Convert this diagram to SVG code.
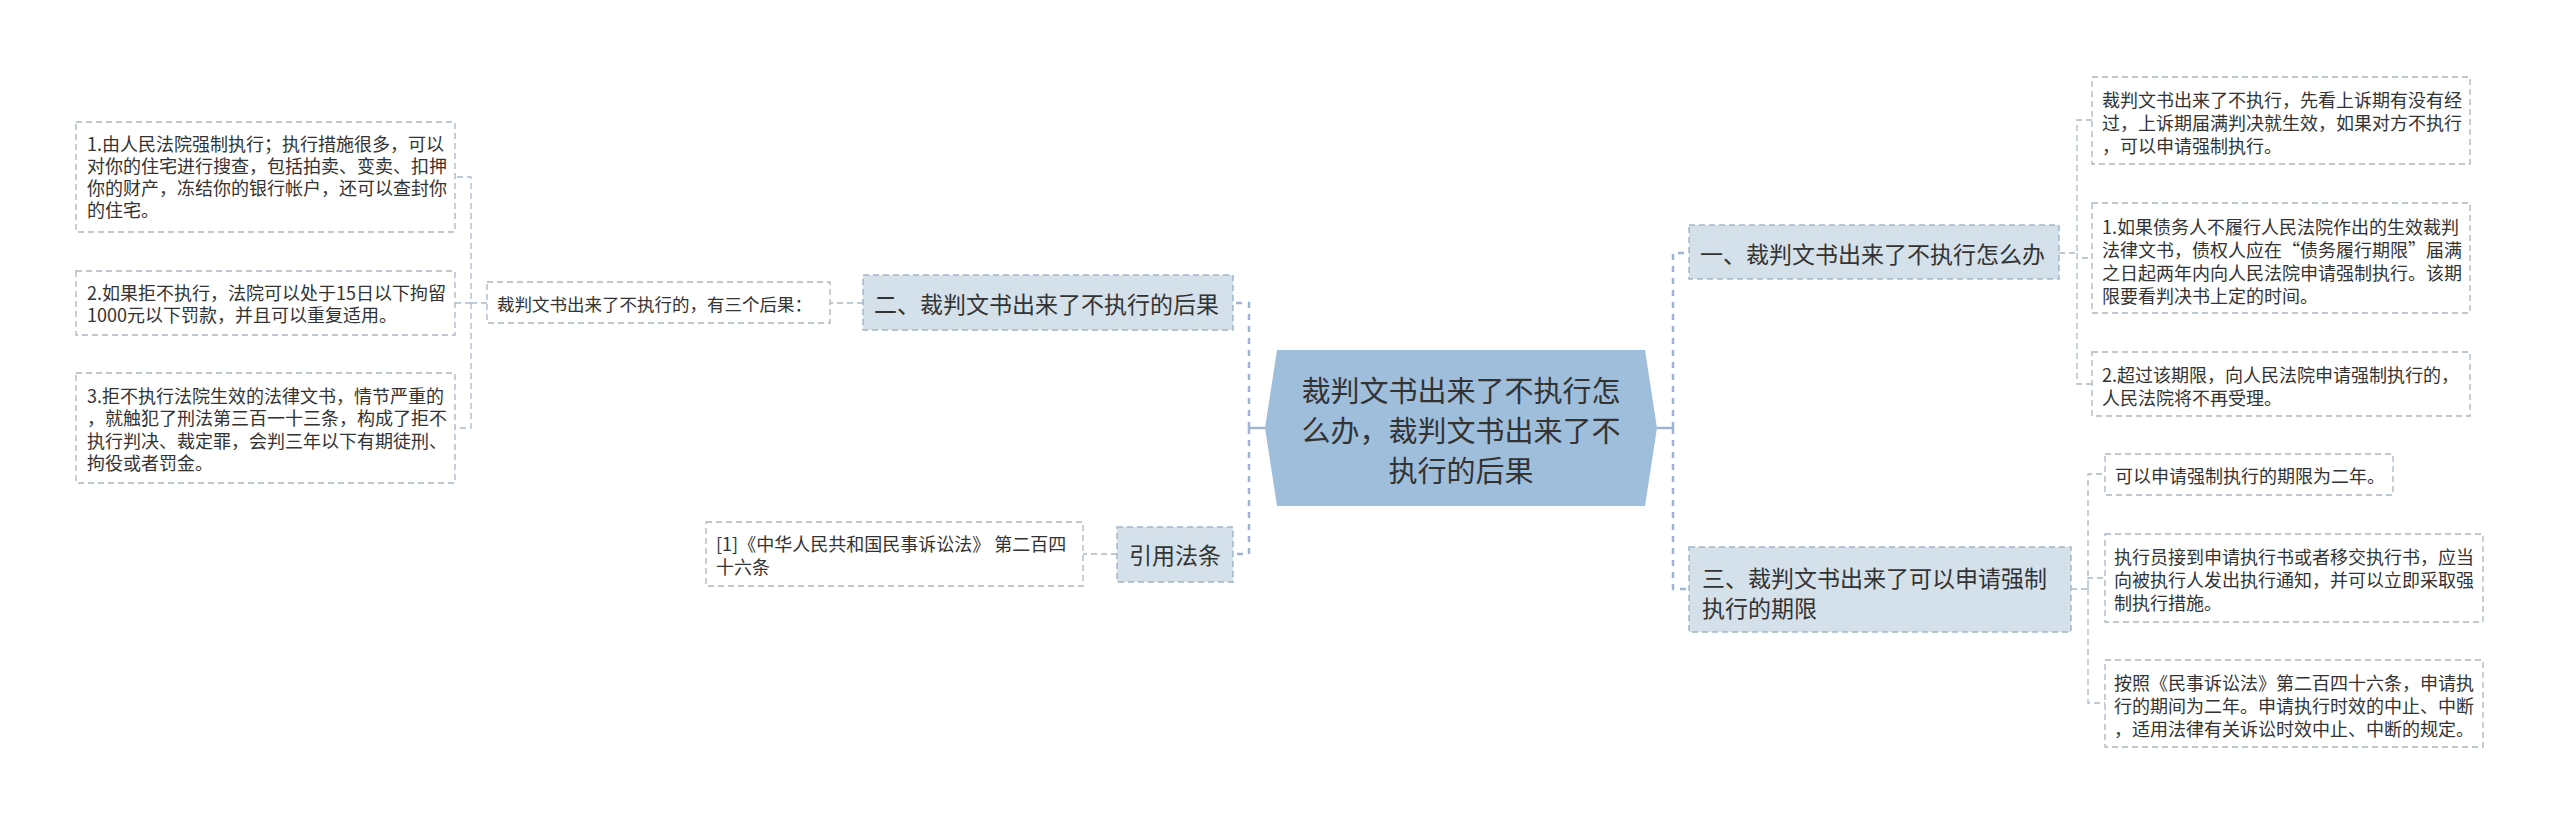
<svg xmlns="http://www.w3.org/2000/svg" width="2560" height="824" viewBox="0 0 2560 824">
<style>
text{font-family:"Noto Sans CJK SC","Noto Sans",sans-serif;fill:#333;dominant-baseline:central}
.leaf rect{fill:#fff;stroke:#a9b6c4;stroke-width:1.3;stroke-dasharray:6 4}
.leaf text{font-size:18px}
.l1 rect{fill:#d4e0ea;stroke:#a3b6c9;stroke-width:1.5;stroke-dasharray:6 4}
.l1 text{font-size:23px}
.c text{font-size:29px;text-anchor:middle}
.cn{fill:none;stroke:#9db5ce;stroke-width:2.5;stroke-dasharray:6 6}
.cs{fill:none;stroke:#9db5ce;stroke-width:2.5}
.ln{fill:none;stroke:#a9b9c9;stroke-width:1.3;stroke-dasharray:6 4}
</style>
<g id="connectors">
<path class="cs" d="M1265 428H1249M1657 428H1673"/>
<path class="cn" d="M1249 428V303H1233M1249 428V554H1233"/>
<path class="cn" d="M1673 428V253H1689M1673 428V589H1689"/>
<path class="ln" d="M863 303H830"/>
<path class="ln" d="M487 303H471V177H455M471 303H455M471 303V428H455"/>
<path class="ln" d="M1117 554H1083"/>
<path class="ln" d="M2059 253H2077V120H2092M2077 253V258H2092M2077 253V384H2092"/>
<path class="ln" d="M2071 589H2088V474H2105M2088 589V578H2105M2088 589V703H2105"/>
</g>
<g id="center" class="c">
<polygon points="1265,428 1277,350 1645,350 1657,428 1645,506 1277,506" fill="#9fbedb"/>
<text x="1461" y="389">裁判文书出来了不执行怎</text>
<text x="1461" y="429">么办，裁判文书出来了不</text>
<text x="1461" y="469">执行的后果</text>
</g>
<g id="n2" class="l1">
<rect x="863" y="275" width="370" height="55"/>
<text x="874" y="303">二、裁判文书出来了不执行的后果</text>
</g>
<g id="label2" class="leaf">
<rect x="487" y="282" width="343" height="41"/>
<text x="497" y="303" style="font-size:17.5px">裁判文书出来了不执行的，有三个后果：</text>
</g>
<g id="box1" class="leaf">
<rect x="76" y="122" width="379" height="110"/>
<text x="87" y="143">1.由人民法院强制执行；执行措施很多，可以</text>
<text x="87" y="165">对你的住宅进行搜查，包括拍卖、变卖、扣押</text>
<text x="87" y="187">你的财产，冻结你的银行帐户，还可以查封你</text>
<text x="87" y="209">的住宅。</text>
</g>
<g id="box2" class="leaf">
<rect x="76" y="271" width="379" height="64"/>
<text x="87" y="292">2.如果拒不执行，法院可以处于15日以下拘留</text>
<text x="87" y="314">1000元以下罚款，并且可以重复适用。</text>
</g>
<g id="box3" class="leaf">
<rect x="76" y="373" width="379" height="110"/>
<text x="87" y="395">3.拒不执行法院生效的法律文书，情节严重的</text>
<text x="87" y="417">，就触犯了刑法第三百一十三条，构成了拒不</text>
<text x="87" y="440">执行判决、裁定罪，会判三年以下有期徒刑、</text>
<text x="87" y="462">拘役或者罚金。</text>
</g>
<g id="n4" class="l1">
<rect x="1117" y="527" width="116" height="55"/>
<text x="1129" y="554">引用法条</text>
</g>
<g id="ref" class="leaf">
<rect x="706" y="522" width="377" height="64"/>
<text x="716" y="543">[1]《中华人民共和国民事诉讼法》 第二百四</text>
<text x="716" y="566">十六条</text>
</g>
<g id="n1" class="l1">
<rect x="1689" y="225" width="370" height="54"/>
<text x="1700" y="253">一、裁判文书出来了不执行怎么办</text>
</g>
<g id="boxA" class="leaf">
<rect x="2092" y="77" width="378" height="87"/>
<text x="2102" y="99">裁判文书出来了不执行，先看上诉期有没有经</text>
<text x="2102" y="122">过，上诉期届满判决就生效，如果对方不执行</text>
<text x="2102" y="145">，可以申请强制执行。</text>
</g>
<g id="boxB" class="leaf">
<rect x="2092" y="203" width="378" height="110"/>
<text x="2102" y="226">1.如果债务人不履行人民法院作出的生效裁判</text>
<text x="2102" y="249">法律文书，债权人应在“债务履行期限”届满</text>
<text x="2102" y="272">之日起两年内向人民法院申请强制执行。该期</text>
<text x="2102" y="295">限要看判决书上定的时间。</text>
</g>
<g id="boxC" class="leaf">
<rect x="2092" y="352" width="378" height="64"/>
<text x="2102" y="374">2.超过该期限，向人民法院申请强制执行的，</text>
<text x="2102" y="397">人民法院将不再受理。</text>
</g>
<g id="n3" class="l1">
<rect x="1689" y="547" width="382" height="85"/>
<text x="1702" y="577">三、裁判文书出来了可以申请强制</text>
<text x="1702" y="607">执行的期限</text>
</g>
<g id="boxD" class="leaf">
<rect x="2105" y="454" width="288" height="41"/>
<text x="2115" y="475">可以申请强制执行的期限为二年。</text>
</g>
<g id="boxE" class="leaf">
<rect x="2105" y="534" width="378" height="88"/>
<text x="2114" y="556">执行员接到申请执行书或者移交执行书，应当</text>
<text x="2114" y="579">向被执行人发出执行通知，并可以立即采取强</text>
<text x="2114" y="602">制执行措施。</text>
</g>
<g id="boxF" class="leaf">
<rect x="2105" y="660" width="378" height="87"/>
<text x="2114" y="682">按照《民事诉讼法》第二百四十六条，申请执</text>
<text x="2114" y="705">行的期间为二年。申请执行时效的中止、中断</text>
<text x="2114" y="728">，适用法律有关诉讼时效中止、中断的规定。</text>
</g>
</svg>
